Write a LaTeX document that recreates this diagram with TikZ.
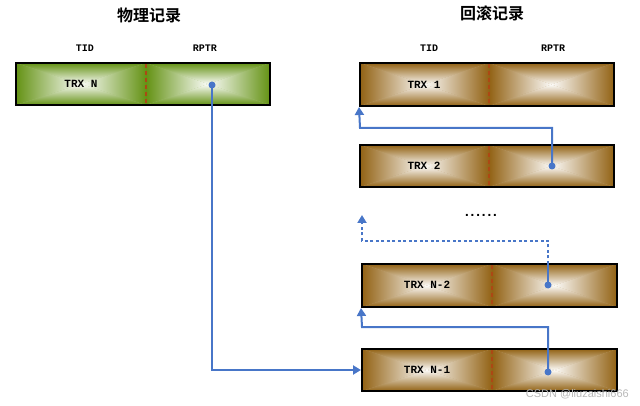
\documentclass[tikz,border=0pt]{standalone}
\usepackage{fontspec}
\setmonofont{Liberation Mono}
\setsansfont{Liberation Sans}
\newfontfamily\cjkb{Noto Sans CJK SC Bold}
\newfontfamily\dotfont{DejaVu Sans Bold}[LetterSpace=13]
\usetikzlibrary{arrows.meta}
\definecolor{grn}{RGB}{100,146,20}
\definecolor{brn}{RGB}{146,98,20}
\definecolor{dvd}{RGB}{172,72,20}
\definecolor{lnk}{RGB}{72,118,200}
\newcommand\halfshade[5]{%
  \pgfmathsetmacro\cxx{(#1+#3)/2}%
  \pgfmathsetmacro\cyy{(#2+#4)/2}%
  \fill[#5!60!white] (#1,#2) rectangle (#3,#4);
  \shade[top color=#5, middle color=#5!58!white, bottom color=#5!3!white] (#1,#2) -- (#3,#2) -- (\cxx,\cyy) -- cycle;
  \shade[top color=#5!3!white, middle color=#5!58!white, bottom color=#5] (#1,#4) -- (#3,#4) -- (\cxx,\cyy) -- cycle;
  \shade[left color=#5, middle color=#5!58!white, right color=#5!3!white] (#1,#2) -- (#1,#4) -- (\cxx,\cyy) -- cycle;
  \shade[left color=#5!3!white, middle color=#5!58!white, right color=#5] (#3,#2) -- (#3,#4) -- (\cxx,\cyy) -- cycle;
}
\tikzset{
  recbox/.style={draw=black, line width=2pt, inner sep=0pt, minimum height=42pt},
  lbl/.style={font=\ttfamily\bfseries\fontsize{11}{13}\selectfont, inner sep=0pt},
  hdr/.style={font=\ttfamily\bfseries\fontsize{10}{12}\selectfont, inner sep=0pt},
  ttl/.style={font=\cjkb\fontsize{16}{18}\selectfont, inner sep=0pt},
  dvdline/.style={draw=dvd, line width=1.1pt, dash pattern=on 4pt off 3pt},
  ptr/.style={circle, fill=lnk, inner sep=0pt, minimum size=7pt},
  link/.style={draw=lnk, line width=2pt, -{Triangle[length=8pt,width=9pt]}},
  plain/.style={draw=lnk, line width=2pt},
  dlink/.style={draw=lnk, line width=2pt, dash pattern=on 3pt off 2.5pt, -{Triangle[length=8pt,width=9pt]}},
}
\begin{document}
\begin{tikzpicture}[x=1pt,y=-1pt]
\useasboundingbox (0,0) rectangle (640,406);
% titles and headers
\node[ttl] (t1) at (149,15) {物理记录};
\node[ttl] (t2) at (492,13) {回滚记录};
\node[hdr] (h1) at (85,48) {TID};
\node[hdr] (h2) at (205,48) {RPTR};
\node[hdr] (h3) at (429,48) {TID};
\node[hdr] (h4) at (553,48) {RPTR};
% physical record
\halfshade{16}{63}{146}{105}{grn}
\halfshade{146}{63}{270}{105}{grn}
\draw[dvdline] (146,64) -- (146,104);
\node[recbox, minimum width=254pt] (p) at (143,84) {};
\node[lbl] (pt) at (81,84) {TRX N};
% rollback 1
\halfshade{360}{63}{489}{106}{brn}
\halfshade{489}{63}{614}{106}{brn}
\draw[dvdline] (489,64) -- (489,105);
\node[recbox, minimum width=254pt, minimum height=43pt] (b1) at (487,84.5) {};
\node[lbl] (b1t) at (424,85) {TRX 1};
% rollback 2
\halfshade{360}{145}{489}{187}{brn}
\halfshade{489}{145}{614}{187}{brn}
\draw[dvdline] (489,146) -- (489,186);
\node[recbox, minimum width=254pt] (b2) at (487,166) {};
\node[lbl] (b2t) at (424,166) {TRX 2};
% rollback N-2
\halfshade{362}{264}{492}{307}{brn}
\halfshade{492}{264}{617}{307}{brn}
\draw[dvdline] (492,265) -- (492,306);
\node[recbox, minimum width=255pt, minimum height=43pt] (n2) at (489.5,285.5) {};
\node[lbl] (n2t) at (427,285) {TRX N-2};
% rollback N-1
\halfshade{362}{349}{492}{391}{brn}
\halfshade{492}{349}{617}{391}{brn}
\draw[dvdline] (492,350) -- (492,390);
\node[recbox, minimum width=255pt] (n1) at (489.5,370) {};
\node[lbl] (n1t) at (427,370) {TRX N-1};
% ellipsis
\node[font=\dotfont\fontsize{11}{13}\selectfont, inner sep=0pt] (el) at (481,215) {......};
% pointer dots
\node[ptr] (pd) at (212,85) {};
\node[ptr] (d2) at (552,166) {};
\node[ptr] (d3) at (548,285) {};
\node[ptr] (d4) at (548,372) {};
% turn points and free ends
\coordinate (c2) at (360,128);
\coordinate (c3) at (362,241);
\coordinate (e3) at (362,215);
\coordinate (c4) at (362,327);
\coordinate (n2top) at (548,264);
% connectors
\draw[link] (pd.center) |- (n1.west);
\draw[link] (d2.center) |- (c2) -- (b1.south west);
\draw[plain] (d3.center) -- (n2top);
\draw[dlink] (n2top) |- (c3) -- (e3);
\draw[link] (d4.center) |- (c4) -- (n2.south west);
% watermark
\node[font=\sffamily\fontsize{11}{13}\selectfont, text=black!28, inner sep=0pt, anchor=east] (wm) at (629,394) {CSDN @liuzaishi666};
\end{tikzpicture}
\end{document}
